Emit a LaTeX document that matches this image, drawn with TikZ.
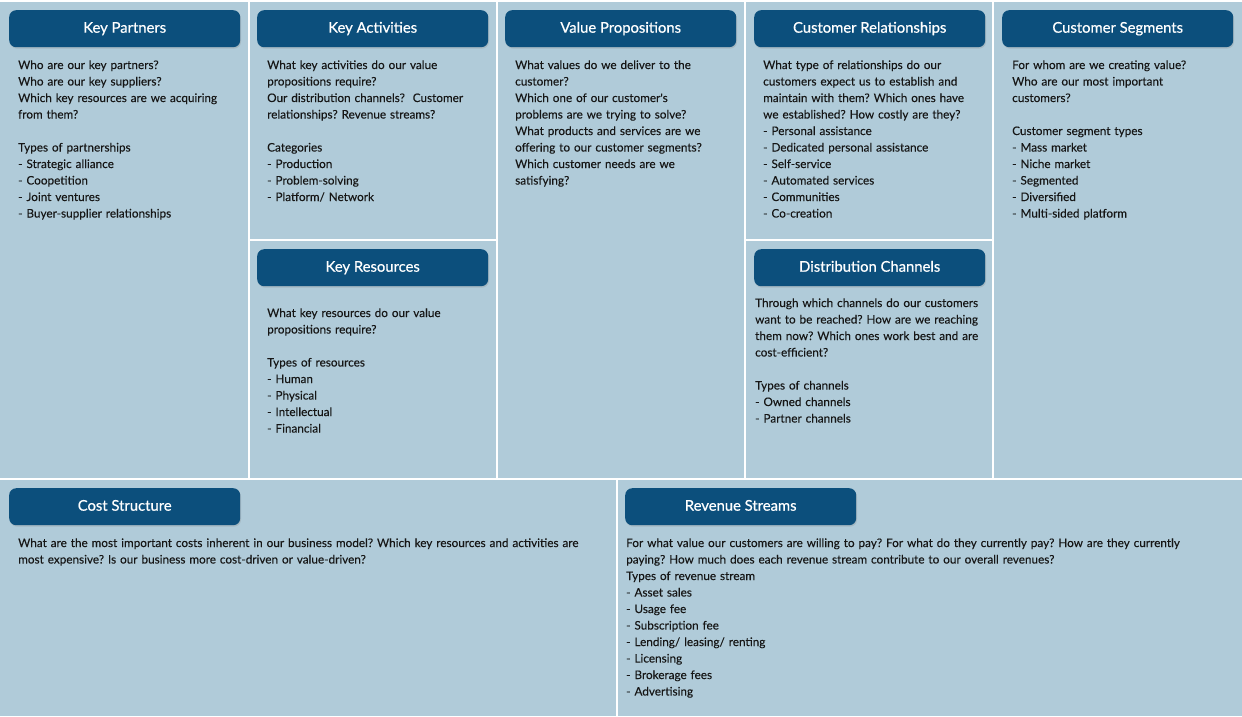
\documentclass[tikz,border=0pt]{standalone}
\usepackage{fontspec}
\setmainfont{Lato}
\newfontfamily\headfont[FakeBold=0.6]{Lato}
\newfontfamily\bodyfont[FakeBold=0.15]{Lato}
\usetikzlibrary{shadows}
\definecolor{cellblue}{RGB}{176,203,217}
\definecolor{headblue}{RGB}{12,79,124}
\definecolor{bodytext}{RGB}{22,22,22}

\begin{document}
\frenchspacing
\begin{tikzpicture}[x=1pt, y=-1pt,
	cell/.style={fill=cellblue},
	header/.style={fill=headblue, rounded corners=7pt, text=white, anchor=north west, inner sep=0pt,
		minimum width=231pt, minimum height=37pt, text depth=0pt, text height=8pt,
		font=\headfont\fontsize{14.8}{16}\selectfont,
		drop shadow={shadow xshift=0.8pt, shadow yshift=-1.4pt, opacity=0.25}},
	body/.style={anchor=base west, text width=300pt, align=left, inner sep=0pt, text=bodytext,
		font=\bodyfont\fontsize{11.75}{16.5}\selectfont}]
	\useasboundingbox (0,0) rectangle (1242,716);
	\fill[white] (0,0) rectangle (1242,716);
	% cells
	\fill[cell] (0,2) rectangle (248,478);
	\fill[cell] (250,2) rectangle (496,239);
	\fill[cell] (250,241) rectangle (496,478);
	\fill[cell] (498,2) rectangle (744,478);
	\fill[cell] (746,2) rectangle (992,239);
	\fill[cell] (746,241) rectangle (992,478);
	\fill[cell] (994,2) rectangle (1242,478);
	\fill[cell] (0,480) rectangle (616,716);
	\fill[cell] (618,480) rectangle (1242,716);
	% headers
	\node[header] (kp) at (9,10) {Key Partners};
	\node[header] (ka) at (257,10) {Key Activities};
	\node[header] (vp) at (505,10) {Value Propositions};
	\node[header] (cr) at (754,10) {Customer Relationships};
	\node[header] (cs) at (1002,10) {Customer Segments};
	\node[header] (kr) at (257,249) {Key Resources};
	\node[header] (dc) at (754,249) {Distribution Channels};
	\node[header] (cost) at (9,488) {Cost Structure};
	\node[header] (rev) at (625,488) {Revenue Streams};
	% texts
	\node[body] (kptext) at (18,69) {Who are our key partners?\\
		Who are our key suppliers?\\
		Which key resources are we acquiring\\
		from them?\\[16.5pt]
		Types of partnerships\\
		- Strategic alliance\\
		- Coopetition\\
		- Joint ventures\\
		- Buyer-supplier relationships};
	\node[body] (katext) at (267,69) {What key activities do our value\\
		propositions require?\\
		Our distribution channels?~ Customer\\
		relationships? Revenue streams?\\[16.5pt]
		Categories\\
		- Production\\
		- Problem-solving\\
		- Platform/ Network};
	\node[body] (krtext) at (267,317) {What key resources do our value\\
		propositions require?\\[16.5pt]
		Types of resources\\
		- Human\\
		- Physical\\
		- Intellectual\\
		- Financial};
	\node[body] (vptext) at (515,69) {What values do we deliver to the\\
		customer?\\
		Which one of our customer's\\
		problems are we trying to solve?\\
		What products and services are we\\
		offering to our customer segments?\\
		Which customer needs are we\\
		satisfying?};
	\node[body] (crtext) at (763,69) {What type of relationships do our\\
		customers expect us to establish and\\
		maintain with them? Which ones have\\
		we established? How costly are they?\\
		- Personal assistance\\
		- Dedicated personal assistance\\
		- Self-service\\
		- Automated services\\
		- Communities\\
		- Co-creation};
	\node[body] (dctext) at (755,307) {Through which channels do our customers\\
		want to be reached? How are we reaching\\
		them now? Which ones work best and are\\
		cost-efficient?\\[16.5pt]
		Types of channels\\
		- Owned channels\\
		- Partner channels};
	\node[body] (cstext) at (1012,69) {For whom are we creating value?\\
		Who are our most important\\
		customers?\\[16.5pt]
		Customer segment types\\
		- Mass market\\
		- Niche market\\
		- Segmented\\
		- Diversified\\
		- Multi-sided platform};
	\node[body, text width=600pt] (costtext) at (18,547) {What are the most important costs inherent in our business model? Which key resources and activities are\\
		most expensive? Is our business more cost-driven or value-driven?};
	\node[body, text width=612pt] (revtext) at (626,547) {For what value our customers are willing to pay? For what do they currently pay? How are they currently\\
		paying? How much does each revenue stream contribute to our overall revenues?\\
		Types of revenue stream\\
		- Asset sales\\
		- Usage fee\\
		- Subscription fee\\
		- Lending/ leasing/ renting\\
		- Licensing\\
		- Brokerage fees\\
		- Advertising};
\end{tikzpicture}
\end{document}
